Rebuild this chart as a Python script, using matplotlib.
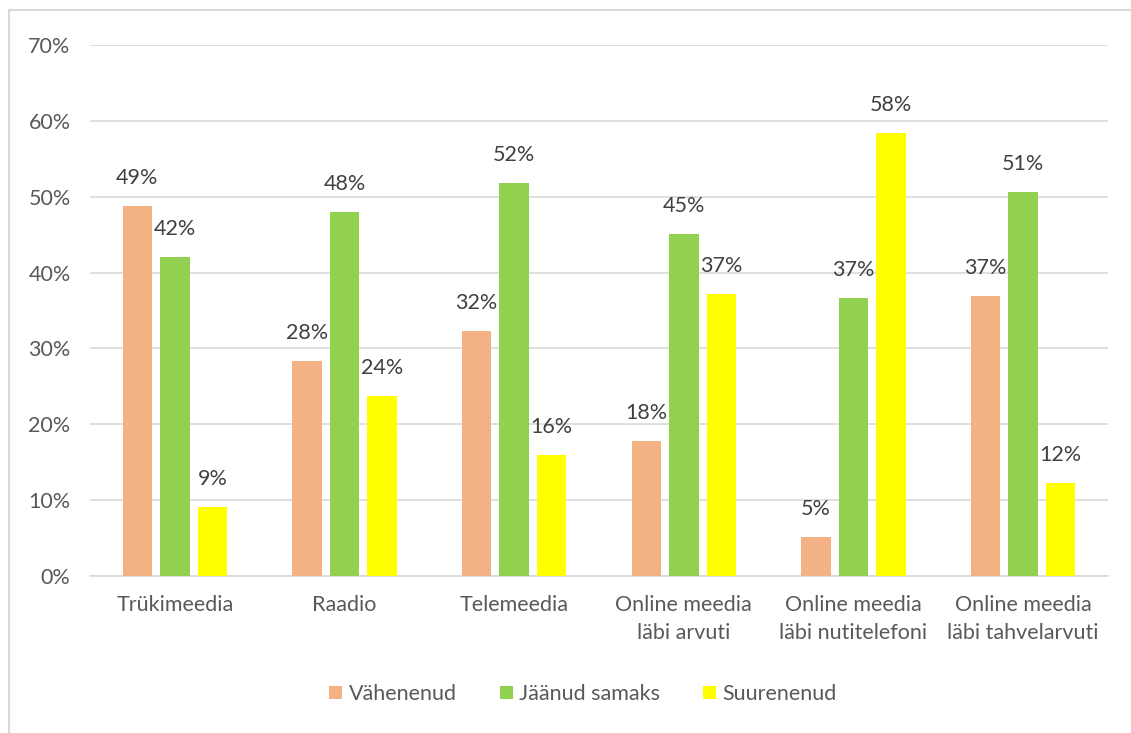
import matplotlib
matplotlib.use("Agg")
import matplotlib.pyplot as plt
import numpy as np
from matplotlib.patches import Rectangle

categories = ["Trükimeedia", "Raadio", "Telemeedia", "Online meedia\nläbi arvuti",
              "Online meedia\nläbi nutitelefoni", "Online meedia\nläbi tahvelarvuti"]
series_names = ["Vähenenud", "Jäänud samaks", "Suurenenud"]
vahenenud = [48.8, 28.3, 32.3, 17.8, 5.1, 36.9]
samaks = [42.1, 48.0, 51.8, 45.1, 36.6, 50.6]
suurenenud = [9.1, 23.7, 15.9, 37.2, 58.4, 12.3]
yticks = [0, 10, 20, 30, 40, 50, 60, 70]

colors = ["#F4B183", "#92D050", "#FFFF00"]
txt = "#595959"
plt.rcParams['font.family'] = ['Lato', 'DejaVu Sans']
fs = 15.5

fig = plt.figure(figsize=(11.31, 7.33), dpi=100)
ax = fig.add_axes([90/1131, 1-576/733, (1108-90)/1131, (576-45)/733])

x = np.arange(len(categories))
w = 0.174
step = 0.221
for i, (vals, name) in enumerate(zip([vahenenud, samaks, suurenenud], series_names)):
    pos = x + (i - 1) * step
    ax.bar(pos, vals, width=w, color=colors[i], label=name, zorder=3)
    for p, v in zip(pos, vals):
        ax.text(p, v + 3.7, f"{round(v):.0f}%", ha="center", va="center",
                fontsize=fs, color="#404040", zorder=4)

ax.set_xlim(-0.5, len(categories) - 0.5)
ax.set_ylim(0, 70)
ax.set_yticks(yticks)
ax.set_yticklabels([f"{t}%" for t in yticks], fontsize=fs, color=txt)
ax.set_xticks(x)
ax.set_xticklabels(categories, fontsize=fs, color=txt, linespacing=1.45)
ax.tick_params(axis="both", length=0)
ax.tick_params(axis="y", pad=14)
ax.tick_params(axis="x", pad=14)
ax.grid(axis="y", color="#D9D9D9", linewidth=1.2, zorder=0)
for s in ["top", "right", "left"]:
    ax.spines[s].set_visible(False)
ax.spines["bottom"].set_color("#D9D9D9")
ax.spines["bottom"].set_linewidth(1.2)

leg = fig.legend(loc="center", bbox_to_anchor=(583/1131, 1-694/733), ncol=3,
                 frameon=False, fontsize=fs, handlelength=0.6, handleheight=0.6,
                 handletextpad=0.3, columnspacing=2.0)
for t in leg.get_texts():
    t.set_color(txt)

fig.patches.append(Rectangle((9/1131, -0.05), 1.2, 1.05 - 10/733, transform=fig.transFigure,
                             fill=False, edgecolor="#D9D9D9", linewidth=1.5))

fig.savefig("out.png", dpi=100)
